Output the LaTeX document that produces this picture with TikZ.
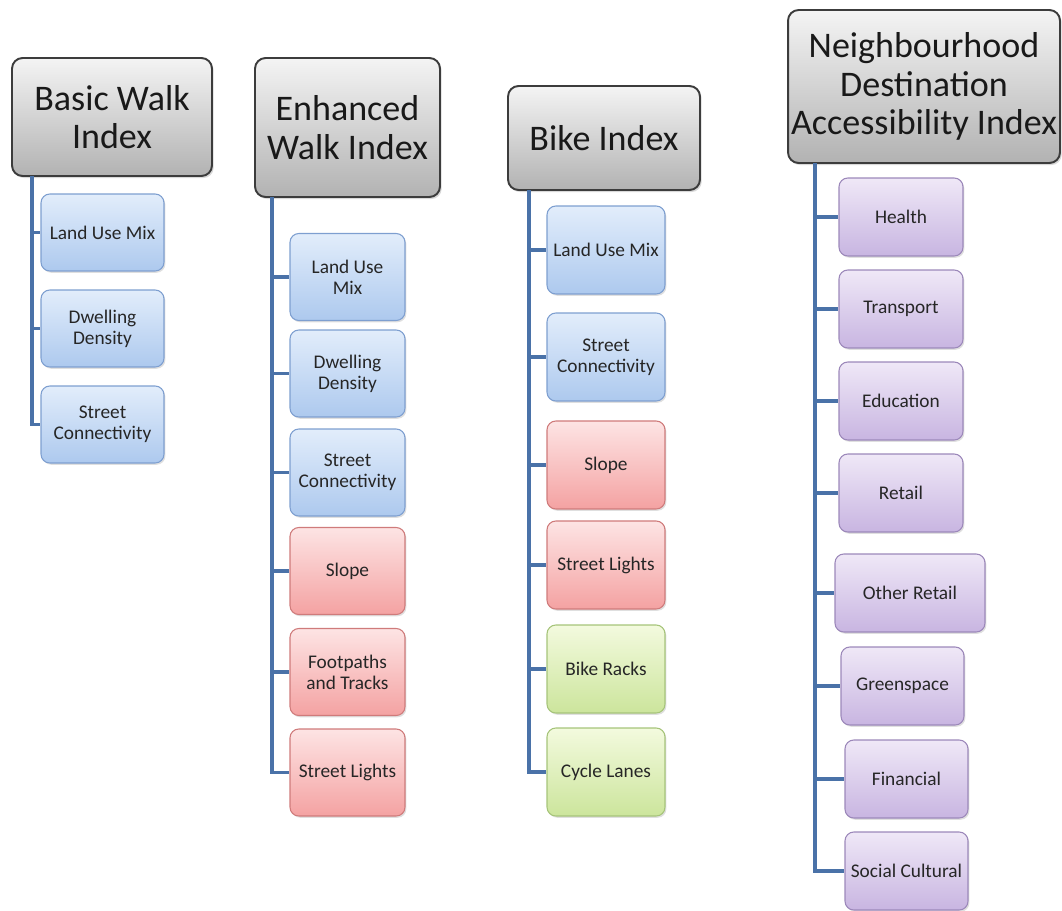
\documentclass[tikz,border=0pt]{standalone}
\usepackage{fontspec}
\setmainfont{Carlito}
\usetikzlibrary{shadows}
\definecolor{cline}{HTML}{4A72A8}
\definecolor{cheadtop}{HTML}{F4F4F4}
\definecolor{cheadbot}{HTML}{B2B2B2}
\definecolor{cheadedge}{HTML}{3C3C3C}
\definecolor{cbluetop}{HTML}{E2EDFB}
\definecolor{cbluebot}{HTML}{ADC9EE}
\definecolor{cblueedge}{HTML}{7E9FD0}
\definecolor{credtop}{HTML}{FDE4E4}
\definecolor{credbot}{HTML}{F4A2A2}
\definecolor{crededge}{HTML}{CF7B7B}
\definecolor{cgreentop}{HTML}{F3FADE}
\definecolor{cgreenbot}{HTML}{CCE59C}
\definecolor{cgreenedge}{HTML}{A6C47A}
\definecolor{cpurpletop}{HTML}{EFE8F7}
\definecolor{cpurplebot}{HTML}{C8B5E1}
\definecolor{cpurpleedge}{HTML}{9C88BA}
\tikzset{
  every picture/.style={line width=0.6pt},
  head/.style={draw=cheadedge, line width=1.1pt, top color=cheadtop, bottom color=cheadbot, rounded corners=6pt, align=center, inner sep=0pt, text=black!90, font=\fontsize{20.5}{22}\selectfont, drop shadow={opacity=0.3, shadow xshift=1pt, shadow yshift=-1.2pt}},
  item/.style={rounded corners=5pt, align=center, inner sep=1pt, text=black!85, font=\fontsize{11}{12}\selectfont, drop shadow={opacity=0.25, shadow xshift=0.8pt, shadow yshift=-1pt}},
  bluefill/.style={draw=cblueedge, top color=cbluetop, bottom color=cbluebot},
  redfill/.style={draw=crededge, top color=credtop, bottom color=credbot},
  greenfill/.style={draw=cgreenedge, top color=cgreentop, bottom color=cgreenbot},
  purplefill/.style={draw=cpurpleedge, top color=cpurpletop, bottom color=cpurplebot},
  trunk/.style={draw=cline, line width=1.8pt},
}
\begin{document}
\begin{tikzpicture}[x=0.02cm, y=-0.02cm]
  \useasboundingbox (0,0) rectangle (1062,910);
  % basic walk index
  \node[head, minimum width=4cm, minimum height=2.36cm] (bw) at (112,117) {Basic Walk\\Index};
  \coordinate (bwt) at (32,176);
  \foreach \y/\col/\txt [count=\i] in {232.5/bluefill/Land Use Mix, 328.5/bluefill/Dwelling\\Density, 424.5/bluefill/Street\\Connectivity}
  {
    \node[item, \col, minimum width=2.46cm, minimum height=1.54cm] (bw\i) at (102.5,\y) {\txt};
    \draw[trunk] (bwt) |- (bw\i.west);
  }
  % enhanced walk index
  \node[head, minimum width=3.7cm, minimum height=2.78cm] (ew) at (347.5,127.5) {Enhanced\\Walk Index};
  \coordinate (ewt) at (272,197);
  \foreach \y/\col/\txt [count=\i] in {277/bluefill/Land Use\\Mix, 373.5/bluefill/Dwelling\\Density, 472.5/bluefill/Street\\Connectivity, 571/redfill/Slope, 672/redfill/Footpaths\\and Tracks, 772.5/redfill/Street Lights}
  {
    \node[item, \col, minimum width=2.3cm, minimum height=1.74cm] (ew\i) at (347.5,\y) {\txt};
    \draw[trunk] (ewt) |- (ew\i.west);
  }
  % bike index
  \node[head, minimum width=3.84cm, minimum height=2.08cm] (bk) at (604,138) {Bike Index};
  \coordinate (bkt) at (529,190);
  \foreach \y/\col/\txt [count=\i] in {250/bluefill/Land Use Mix, 357/bluefill/Street\\Connectivity, 465/redfill/Slope, 565/redfill/Street Lights, 669/greenfill/Bike Racks, 772/greenfill/Cycle Lanes}
  {
    \node[item, \col, minimum width=2.36cm, minimum height=1.76cm] (bk\i) at (606,\y) {\txt};
    \draw[trunk] (bkt) |- (bk\i.west);
  }
  % neighbourhood destination accessibility index
  \node[head, minimum width=5.44cm, minimum height=3.06cm] (nd) at (924,86.5) {Neighbourhood\\Destination\\Accessibility Index};
  \coordinate (ndt) at (815,163);
  \foreach \x/\y/\w/\txt [count=\i] in {901/217/2.48/Health, 901/309/2.48/Transport, 901/401/2.48/Education, 901/493/2.48/Retail, 910/593/3.0/Other Retail, 902.5/686/2.46/Greenspace, 906.5/779/2.46/Financial, 906.5/871/2.46/Social Cultural}
  {
    \node[item, purplefill, minimum width=\w cm, minimum height=1.56cm] (nd\i) at (\x,\y) {\txt};
    \draw[trunk] (ndt) |- (nd\i.west);
  }
\end{tikzpicture}
\end{document}
